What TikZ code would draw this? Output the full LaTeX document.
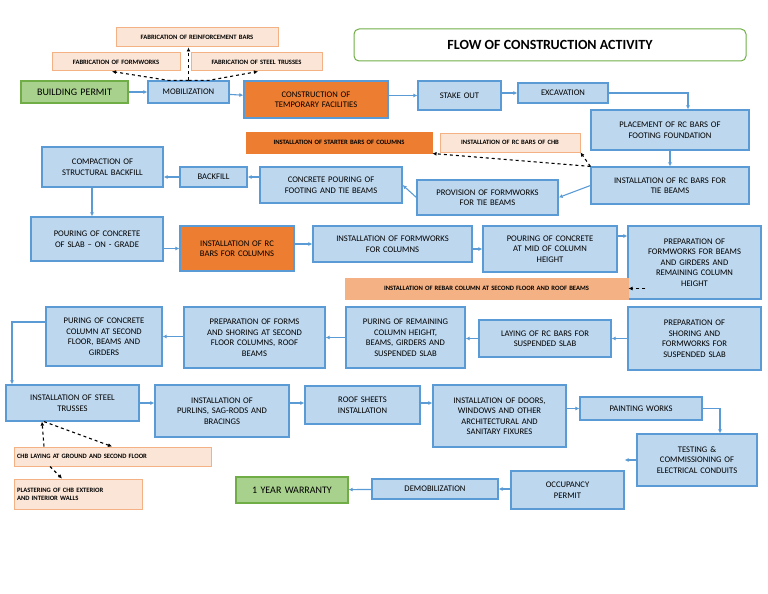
\documentclass[tikz,border=0pt]{standalone}
\usepackage{fontspec}
\setmainfont{Carlito}
\usetikzlibrary{arrows.meta}
\definecolor{bfill}{HTML}{BDD7EE}
\definecolor{bline}{HTML}{5B9BD5}
\definecolor{ofill}{HTML}{ED7D31}
\definecolor{pfill}{HTML}{FBE5D6}
\definecolor{pline}{HTML}{F4B183}
\definecolor{gfill}{HTML}{A9D18E}
\definecolor{gline}{HTML}{70AD47}
\tikzset{
  box/.style={draw=bline,fill=bfill,line width=1.2pt,align=center,inner sep=1pt,font=\fontsize{8.6}{10.5}\selectfont},
  obox/.style={box,fill=ofill},
  pbox/.style={draw=pline,fill=pfill,line width=1pt,align=center,inner sep=1pt,font=\bfseries\fontsize{6.6}{8}\selectfont},
  gbox/.style={draw=gline,fill=gfill,line width=1.2pt,align=center,inner sep=1pt,font=\fontsize{10}{12}\selectfont},
  flow/.style={draw=bline,line width=1.1pt,-{Latex[length=4pt,width=4pt]}},
  dashflow/.style={draw=black,dashed,line width=1.1pt,-{Latex[length=4pt,width=4pt]}}
}
% place a box by its corners (pixel coordinates)
\newcommand{\bx}[7][]{\node[#2,minimum width={#5-#3},minimum height={#6-#4},text width={#5-#3-6}] (#7) at ({(#3+#5)/2},{(#4+#6)/2}) {#1};}
\begin{document}
\begin{tikzpicture}[x=1pt,y=-1pt]
  \useasboundingbox (0,0) rectangle (768,594);
  \node[draw=gline,line width=1pt,rounded corners=5pt,minimum width=392,minimum height=32,font=\bfseries\fontsize{14}{16}\selectfont] (title) at (550,45) {FLOW OF CONSTRUCTION ACTIVITY};
  \bx[FABRICATION OF REINFORCEMENT BARS]{pbox}{116}{28}{278}{47}{fabRB}
  \bx[FABRICATION OF FORMWORKS]{pbox}{52}{53}{180}{71}{fabFW}
  \bx[FABRICATION OF STEEL TRUSSES]{pbox}{191}{53}{322}{71}{fabST}
  \bx[BUILDING PERMIT]{gbox}{21}{81}{128}{103}{permit}
  \bx[MOBILIZATION]{box}{148}{81}{229}{103}{mob}
  \bx[CONSTRUCTION OF\\TEMPORARY FACILITIES]{obox}{244}{81}{388}{118}{temp}
  \bx[STAKE OUT]{box}{418}{81}{501}{110}{stake}
  \bx[EXCAVATION]{box}{518}{83}{608}{103}{excav}
  \bx[PLACEMENT OF RC BARS OF\\FOOTING FOUNDATION]{box}{591}{110}{749}{150}{placeRC}
  \bx[INSTALLATION OF STARTER BARS OF COLUMNS]{pbox,fill=ofill,draw=ofill}{246}{132}{432}{153}{starter}
  \bx[INSTALLATION OF RC BARS OF CHB]{pbox}{440}{133}{580}{152}{rcCHB}
  \bx[COMPACTION OF\\STRUCTURAL BACKFILL]{box}{42}{147}{163}{187}{compact}
  \bx[BACKFILL]{box}{180}{167}{247}{187}{backfill}
  \bx[CONCRETE POURING OF\\FOOTING AND TIE BEAMS]{box}{260}{167}{402}{203}{concpour}
  \bx[PROVISION OF FORMWORKS\\FOR TIE BEAMS]{box}{417}{180}{558}{215}{provfw}
  \bx[INSTALLATION OF RC BARS FOR\\TIE BEAMS]{box}{591}{167}{749}{204}{insttie}
  \bx[POURING OF CONCRETE\\OF SLAB -- ON - GRADE]{box}{31}{217}{163}{261}{slab}
  \bx[INSTALLATION OF RC\\BARS FOR COLUMNS]{obox}{180}{226}{294}{271}{instcol}
  \bx[INSTALLATION OF FORMWORKS\\FOR COLUMNS]{box}{313}{226}{472}{262}{fwcol}
  \bx[POURING OF CONCRETE\\AT MID OF COLUMN\\HEIGHT]{box}{483}{226}{617}{272}{pourmid}
  \bx[PREPARATION OF\\FORMWORKS FOR BEAMS\\AND GIRDERS AND\\REMAINING COLUMN\\HEIGHT]{box}{628}{226}{761}{299}{prepfw}
  \bx[INSTALLATION OF REBAR COLUMN AT SECOND FLOOR AND ROOF BEAMS]{pbox,fill=pline,draw=pline}{345}{278}{628}{299}{rebar}
  \bx[PURING OF CONCRETE\\COLUMN AT SECOND\\FLOOR, BEAMS AND\\GIRDERS]{box}{46}{307}{162}{366}{puring}
  \bx[PREPARATION OF FORMS\\AND SHORING AT SECOND\\FLOOR COLUMNS, ROOF\\BEAMS]{box}{184}{307}{325}{368}{prepforms}
  \bx[PURING OF REMAINING\\COLUMN HEIGHT,\\BEAMS, GIRDERS AND\\SUSPENDED SLAB]{box}{346}{307}{465}{368}{remain}
  \bx[LAYING OF RC BARS FOR\\SUSPENDED SLAB]{box}{479}{320}{611}{357}{layrc}
  \bx[PREPARATION OF\\SHORING AND\\FORMWORKS FOR\\SUSPENDED SLAB]{box}{628}{307}{761}{370}{shoring}
  \bx[INSTALLATION OF STEEL\\TRUSSES]{box}{6}{385}{139}{421}{trusses}
  \bx[INSTALLATION OF\\PURLINS, SAG-RODS AND\\BRACINGS]{box}{155}{385}{289}{437}{purlins}
  \bx[ROOF SHEETS\\INSTALLATION]{box}{305}{386}{420}{424}{roof}
  \bx[INSTALLATION OF DOORS,\\WINDOWS AND OTHER\\ARCHITECTURAL AND\\SANITARY FIXURES]{box}{433}{385}{566}{447}{doors}
  \bx[PAINTING WORKS]{box}{580}{397}{702}{420}{paint}
  \bx[TESTING \&\\COMMISSIONING OF\\ELECTRICAL CONDUITS]{box}{637}{434}{757}{486}{testing}
  \bx[OCCUPANCY\\PERMIT]{box}{511}{471}{624}{509}{occup}
  \bx[DEMOBILIZATION]{box}{372}{479}{498}{499}{demob}
  \bx[1 YEAR WARRANTY]{gbox}{236}{477}{348}{503}{warranty}
  \bx[CHB LAYING AT GROUND AND SECOND FLOOR]{pbox,align=left}{14}{447}{211}{466}{chb}
  \bx[PLASTERING OF CHB EXTERIOR\\AND INTERIOR WALLS]{pbox,align=left}{14}{479}{142}{509}{plaster}
  % main flow
  \draw[flow] (permit) -- (mob);
  \draw[flow] (mob) -- (temp);
  \draw[flow] (temp.east|-stake) -- (stake);
  \draw[flow] (stake.east|-excav) -- (excav);
  \draw[flow] (excav.east) -| (placeRC.north-|688,0);
  \draw[flow] (placeRC) -- (insttie.north-|placeRC);
  \draw[flow] (insttie.west) -- (provfw.east);
  \draw[flow] (provfw.west) -- (concpour.east);
  \draw[flow] (concpour.west|-backfill) -- (backfill);
  \draw[flow] (backfill) -- (compact.east|-backfill);
  \draw[flow] (compact.south-|92,0) -- (slab.north-|92,0);
  \draw[flow] (slab.east|-instcol) -- (instcol);
  \draw[flow] (instcol.east|-fwcol) -- (fwcol);
  \draw[flow] (fwcol.east|-pourmid) -- (pourmid);
  \draw[flow] (pourmid.east|-0,236) -- (prepfw.west|-0,236);
  \draw[flow] (shoring.west|-layrc) -- (layrc);
  \draw[flow] (layrc) -- (remain.east|-layrc);
  \draw[flow] (remain) -- (prepforms);
  \draw[flow] (prepforms.west|-puring) -- (puring);
  \draw[flow] (puring.west|-0,322) -| (trusses.north-|12,0);
  \draw[flow] (trusses.east|-0,403) -- (purlins.west|-0,403);
  \draw[flow] (purlins.east|-0,403) -- (roof.west|-0,403);
  \draw[flow] (roof.east|-0,403) -- (doors.west|-0,403);
  \draw[flow] (doors.east|-paint) -- (paint);
  \draw[flow] (paint.east) -| (testing.north-|720,0);
  \draw[flow] (testing.west) -- (occup.east|-0,460);
  \draw[flow] (occup.west|-demob) -- (demob);
  \draw[flow] (demob) -- (warranty);
  % side activities
  \draw[dashflow] (mob.north) -- (fabRB.south-|mob.north);
  \draw[dashflow] (mob.north) -- ++(-20,0) -- (fabFW.south-|112,0);
  \draw[dashflow] (mob.north) -- ++(20,0) -- (fabST.south-|258,0);
  \draw[dashflow] (insttie.north west) -- (starter.south east);
  \draw[dashflow] (insttie.north west) -- (rcCHB.south east);
  \draw[dashflow] ([xshift=18pt]prepfw.west|-rebar) -- (rebar.east);
  \draw[dashflow] (trusses.south-|44,0) -- (chb.north-|112,0);
  \draw[dashflow] (chb.north-|44,0) -- (trusses.south-|42,0);
  \draw[dashflow] (chb.south-|50,0) -- (plaster.north-|62,0);
\end{tikzpicture}
\end{document}
